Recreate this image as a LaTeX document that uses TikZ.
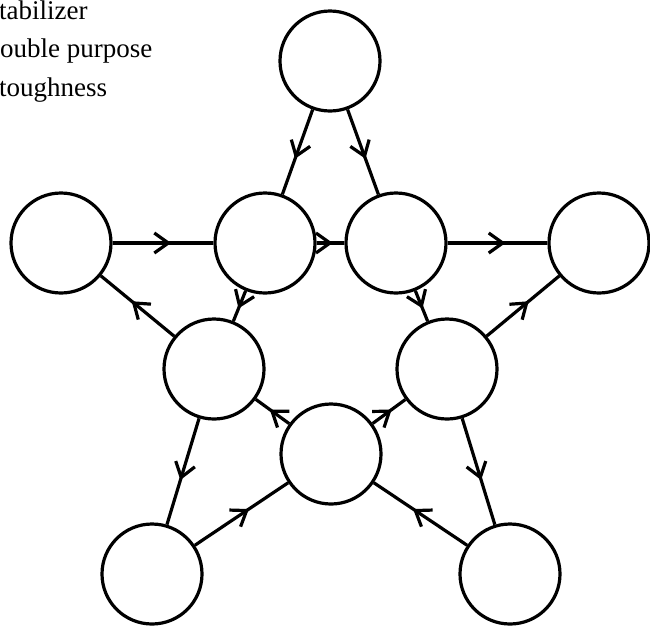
\documentclass[tikz,border=0pt]{standalone}
\usepackage{fontspec}
\setmainfont{Liberation Serif}
\usepackage{tikz}
\usetikzlibrary{arrows.meta,decorations.markings}
\pgfkeys{tikz/mycircle/.style={circle, draw, line width=3.2pt,
                                   minimum size=100pt, inner sep=0pt}}
\pgfkeys{tikz/myedge/.style={line width=3.2pt,
                                 decoration={markings, mark=at position 0.58 with {\arrow{Straight Barb[length=14pt,width=20pt]}}},
                                 postaction={decorate}}}
\pgfkeys{tikz/mylabel/.style={anchor=base west, inner sep=0pt,
                                  font=\fontsize{27pt}{30pt}\selectfont}}
\begin{document}
\begin{tikzpicture}[x=1pt, y=-1pt]
                \useasboundingbox (0,0) rectangle (650,625);

                \node[mylabel] (t1) at (-1, 19) {tabilizer};
                \node[mylabel] (t2) at (0, 57) {ouble purpose};
                \node[mylabel] (t3) at (-1, 96) {toughness};

                \node[mycircle] (top) at (330, 61) {};

                \node[mycircle] (n1) at (61, 243) {};
                \node[mycircle] (n2) at (265, 243) {};
                \node[mycircle] (n3) at (396, 243) {};
                \node[mycircle] (n4) at (599, 243) {};

                \draw[myedge] (top) -- (n2);
                \draw[myedge] (top) -- (n3);
                \draw[myedge] (n1) -- (n2);
                \draw[myedge] (n2) -- (n3);
                \draw[myedge] (n3) -- (n4);

                \node[mycircle] (n5) at (214, 369) {};
                \node[mycircle] (n6) at (447, 369) {};
                \node[mycircle] (n7) at (331, 454) {};

                \draw[myedge] (n2) -- (n5);
                \draw[myedge] (n3) -- (n6);
                \draw[myedge] (n5) -- (n1);
                \draw[myedge] (n6) -- (n4);
                \draw[myedge] (n7) -- (n5);
                \draw[myedge] (n7) -- (n6);

                \node[mycircle] (n8) at (152, 574) {};
                \node[mycircle] (n9) at (510, 574) {};

                \draw[myedge] (n5) -- (n8);
                \draw[myedge] (n6) -- (n9);
                \draw[myedge] (n8) -- (n7);
                \draw[myedge] (n9) -- (n7);
            \end{tikzpicture}
\end{document}
